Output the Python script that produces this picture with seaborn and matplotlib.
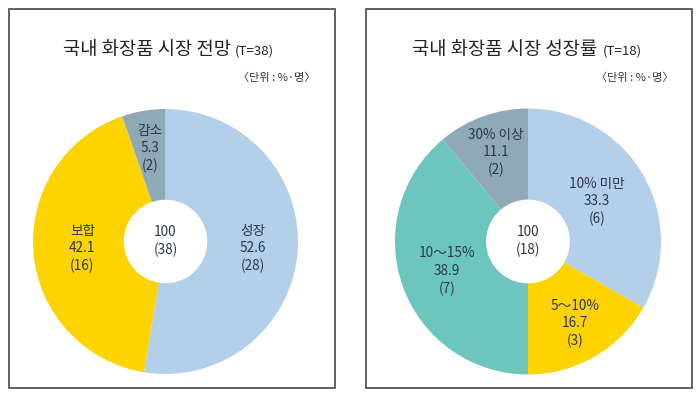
import numpy as np
import matplotlib
matplotlib.use("Agg")
import matplotlib.pyplot as plt
from matplotlib.patches import Rectangle
import seaborn as sns

# ---- data ----
left_title = "국내 화장품 시장 전망"
left_n = "(T=38)"
left_labels = ["성장", "보합", "감소"]
left_pct = [52.6, 42.1, 5.3]
left_cnt = [28, 16, 2]
left_total = "100\n(38)"

right_title = "국내 화장품 시장 성장률"
right_n = "(T=18)"
right_labels = ["10% 미만", "5～10%", "10～15%", "30% 이상"]
right_pct = [33.3, 16.7, 38.9, 11.1]
right_cnt = [6, 3, 7, 2]
right_total = "100\n(18)"

unit_text = "〈단위 : %·명〉"

sns.set_theme(style="white")
plt.rcParams['font.family'] = ['Noto Sans CJK KR', 'DejaVu Sans']

W, H = 698, 393
fig = plt.figure(figsize=(W / 100, H / 100), dpi=100)
fig.patch.set_facecolor("white")

BLUE = "#b3cfea"
YELLOW = "#fdd300"
GRAY = "#8fa9b6"
TEAL = "#6cc6bd"
TXT = "#2e3848"


def fx(x):
    return x / W


def fy(y):
    return 1 - y / H


def panel(x0, x1, y0, y1):
    fig.add_artist(Rectangle((fx(x0), fy(y1)), fx(x1) - fx(x0), fy(y0) - fy(y1),
                             transform=fig.transFigure, fill=False,
                             edgecolor="#555555", linewidth=1.3))


def donut(cx, cy, r, values, labels, counts, colors, lab_r, total):
    ax = fig.add_axes([fx(cx - r), fy(cy + r), 2 * r / W, 2 * r / H])
    ax.axis("off")
    wedges, _ = ax.pie(values, colors=colors, startangle=90, counterclock=False,
                       radius=1.0, wedgeprops=dict(width=1 - 0.315, linewidth=0),
                       frame=False)
    ax.set_xlim(-1, 1)
    ax.set_ylim(-1, 1)
    for w, lab, v, c, rr in zip(wedges, labels, values, counts, lab_r):
        ang = np.deg2rad((w.theta1 + w.theta2) / 2)
        ax.text(rr * np.cos(ang), rr * np.sin(ang), f"{lab}\n{v}\n({c})",
                ha="center", va="center", fontsize=9.8, color=TXT,
                linespacing=1.3)
    ax.text(0, 0, total, ha="center", va="center", fontsize=9.8, color=TXT,
            linespacing=1.3)
    return ax


# left panel
panel(9, 335, 9, 388)
fig.text(fx(231), fy(50), left_title, ha="right", va="center", fontsize=13.5,
         fontweight="medium", color="#222222")
fig.text(fx(235), fy(51), left_n, ha="left", va="center", fontsize=9.5,
         color="#222222")
fig.text(fx(316), fy(78), unit_text, ha="right", va="center", fontsize=8,
         color="#333333")
donut(165.5, 241.5, 132.5, left_pct, left_labels, left_cnt,
      [BLUE, YELLOW, GRAY], [0.66, 0.63, 0.71], left_total)

# right panel
panel(366, 692, 9, 388)
fig.text(fx(597), fy(50), right_title, ha="right", va="center", fontsize=13.5,
         fontweight="medium", color="#222222")
fig.text(fx(603), fy(51), right_n, ha="left", va="center", fontsize=9.5,
         color="#222222")
fig.text(fx(674), fy(78), unit_text, ha="right", va="center", fontsize=8,
         color="#333333")
donut(528, 241.5, 133, right_pct, right_labels, right_cnt,
      [BLUE, YELLOW, TEAL, GRAY], [0.6, 0.71, 0.65, 0.71], right_total)

fig.savefig("out.png", dpi=100)
